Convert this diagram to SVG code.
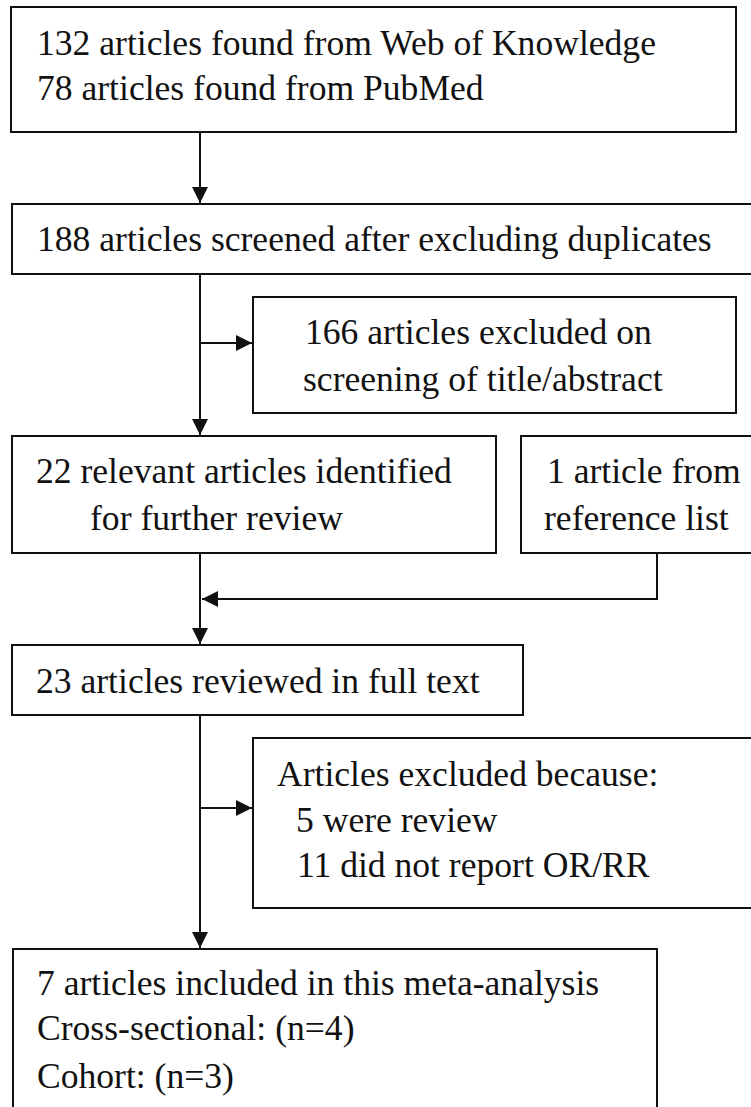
<svg xmlns="http://www.w3.org/2000/svg" width="751" height="1107" viewBox="0 0 751 1107">
<style>
.box{fill:#fff;stroke:#111;stroke-width:2}
.t{font-size:35.6px;fill:#111}
.c{fill:none;stroke:#111;stroke-width:2}
</style>
<defs>
<marker id="ah" viewBox="0 0 10 10" refX="10" refY="5" markerWidth="16" markerHeight="17" markerUnits="userSpaceOnUse" orient="auto">
<path d="M0,0 L10,5 L0,10 Z" fill="#111"/>
</marker>
</defs>
<rect width="751" height="1107" fill="#fff"/>
<g id="connectors">
<line class="c" x1="200" y1="132" x2="200" y2="203" marker-end="url(#ah)"/>
<line class="c" x1="200" y1="274" x2="200" y2="435" marker-end="url(#ah)"/>
<line class="c" x1="200" y1="343" x2="252" y2="343" marker-end="url(#ah)"/>
<polyline class="c" points="657,553 657,599 202,599" marker-end="url(#ah)"/>
<line class="c" x1="200" y1="553" x2="200" y2="644" marker-end="url(#ah)"/>
<line class="c" x1="200" y1="715" x2="200" y2="948" marker-end="url(#ah)"/>
<line class="c" x1="200" y1="808" x2="252" y2="808" marker-end="url(#ah)"/>
</g>
<g font-family="Liberation Serif, Times New Roman, DejaVu Serif, serif">
<g id="n1">
<rect class="box" x="11" y="7" width="725" height="125"/>
<text class="t" x="37" y="55">132 articles found from Web of Knowledge</text>
<text class="t" x="37" y="100">78 articles found from PubMed</text>
</g>
<g id="n2">
<rect class="box" x="12" y="204" width="745" height="70"/>
<text class="t" x="37" y="251">188 articles screened after excluding duplicates</text>
</g>
<g id="n3">
<rect class="box" x="253" y="297" width="483" height="116"/>
<text class="t" x="305" y="344">166 articles excluded on</text>
<text class="t" x="303" y="391">screening of title/abstract</text>
</g>
<g id="n4">
<rect class="box" x="12" y="436" width="484" height="117"/>
<text class="t" x="36" y="483">22 relevant articles identified</text>
<text class="t" x="90" y="530">for further review</text>
</g>
<g id="n5">
<rect class="box" x="521" y="436" width="240" height="117"/>
<text class="t" x="547" y="483">1 article from</text>
<text class="t" x="544" y="530">reference list</text>
</g>
<g id="n6">
<rect class="box" x="12" y="645" width="511" height="70"/>
<text class="t" x="36" y="693">23 articles reviewed in full text</text>
</g>
<g id="n7">
<rect class="box" x="253" y="738" width="510" height="170"/>
<text class="t" x="277" y="786">Articles excluded because:</text>
<text class="t" x="296" y="832">5 were review</text>
<text class="t" x="297" y="877">11 did not report OR/RR</text>
</g>
<g id="n8">
<rect class="box" x="13" y="949" width="644" height="170"/>
<text class="t" x="37" y="995">7 articles included in this meta-analysis</text>
<text class="t" x="37" y="1040">Cross-sectional: (n=4)</text>
<text class="t" x="37" y="1088">Cohort: (n=3)</text>
</g>
</g>
</svg>
